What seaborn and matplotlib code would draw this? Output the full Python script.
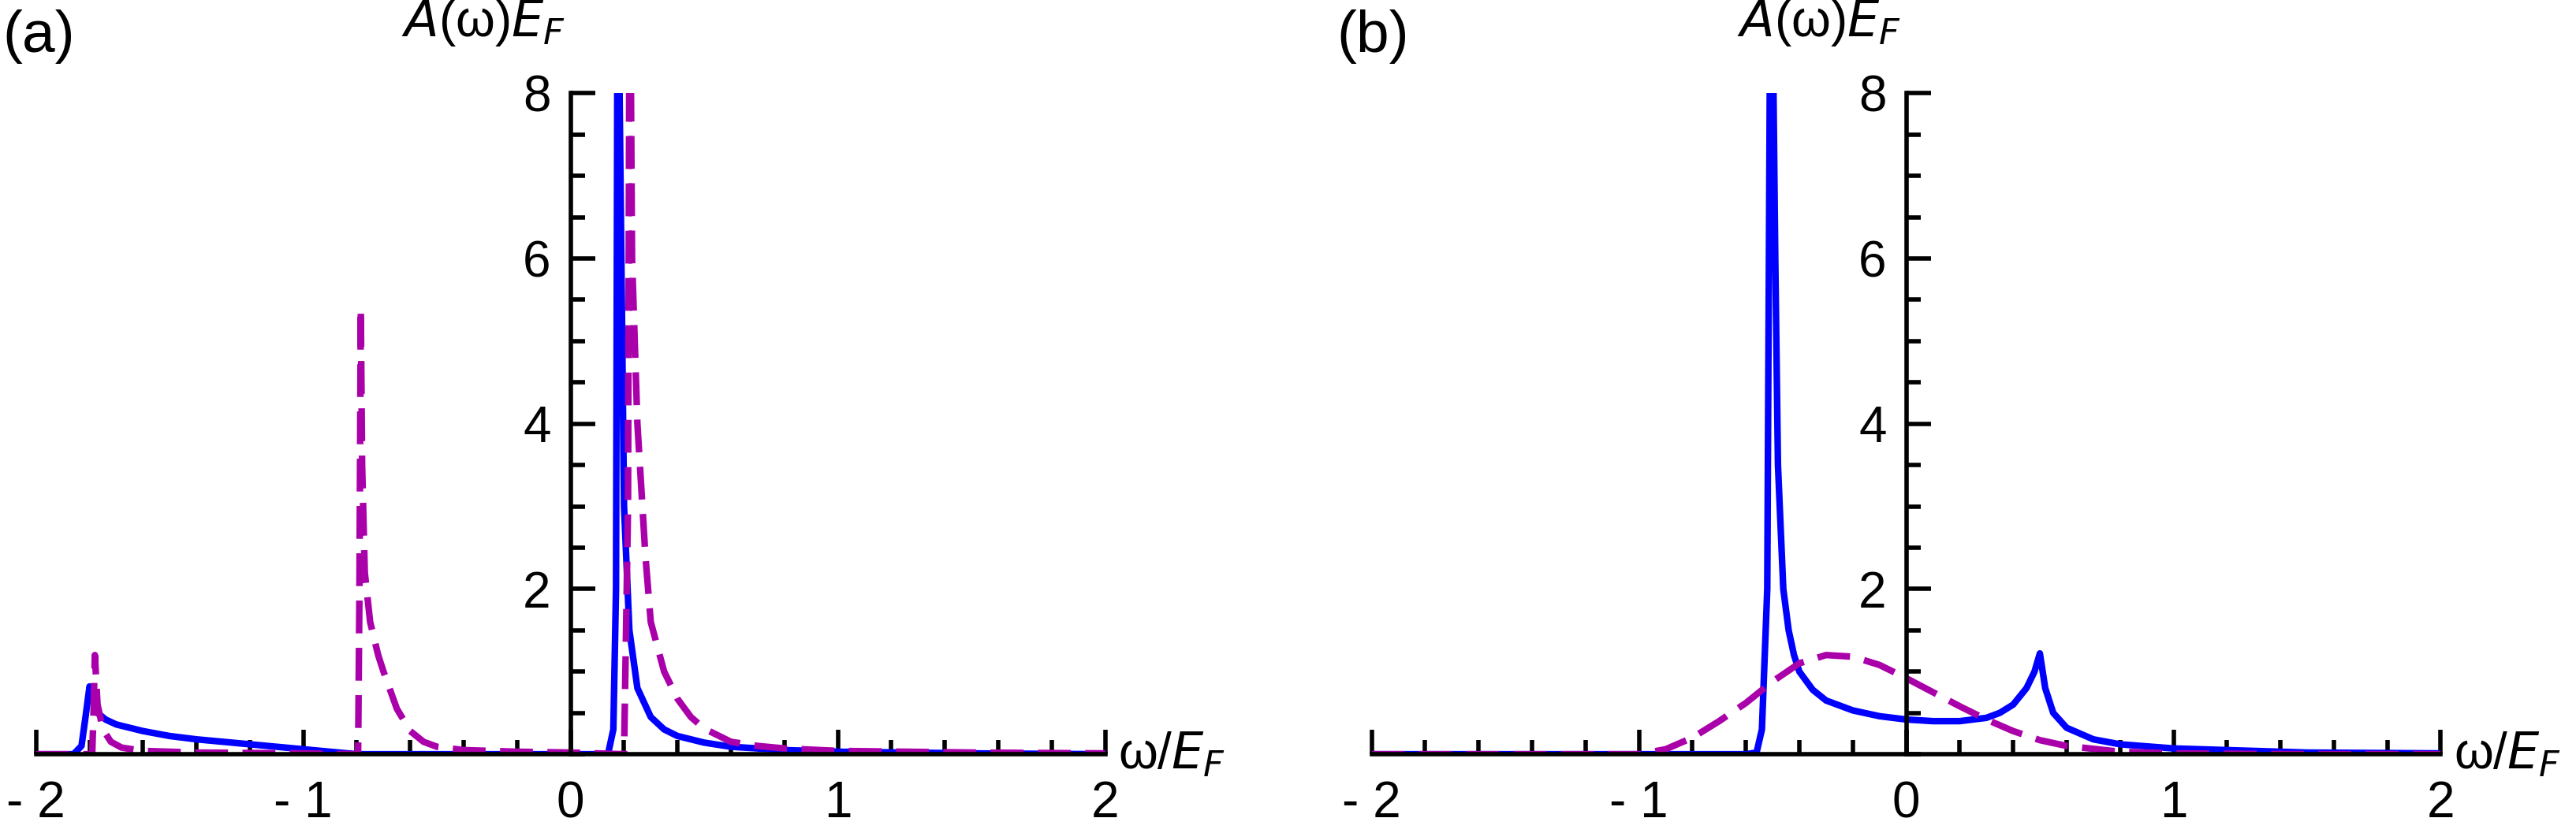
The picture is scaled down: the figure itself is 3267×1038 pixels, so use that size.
import numpy as np
import pandas as pd
import matplotlib
matplotlib.use("Agg")
import matplotlib.pyplot as plt
import seaborn as sns
from matplotlib.ticker import MultipleLocator

sns.set_style("white")
plt.rcParams['font.family'] = ['Liberation Sans', 'DejaVu Sans']
plt.rcParams['text.color'] = 'black'
plt.rcParams['xtick.color'] = 'black'
plt.rcParams['ytick.color'] = 'black'

# Panel (a)
a_blue_x = [-2.0, -1.86, -1.83, -1.815, -1.80, -1.79, -1.77, -1.74, -1.70, -1.6, -1.5, -1.4, -1.3, -1.2, -1.1, -1.0, -0.9, -0.8, -0.5, 0.0, 0.14, 0.16, 0.17, 0.175, 0.18, 0.19, 0.2, 0.22, 0.25, 0.3, 0.35, 0.4, 0.5, 0.6, 0.8, 1.0, 1.5, 2.0]
a_blue_y = [0.0, 0.0, 0.1, 0.45, 0.82, 0.7, 0.5, 0.42, 0.36, 0.28, 0.22, 0.18, 0.15, 0.12, 0.09, 0.06, 0.03, 0.0, 0.0, 0.0, 0.0, 0.3, 2.0, 8.5, 9.0, 6.0, 3.0, 1.5, 0.8, 0.45, 0.3, 0.22, 0.14, 0.09, 0.05, 0.03, 0.01, 0.0]
a_mag_x = [-2.0, -1.79, -1.785, -1.78, -1.77, -1.75, -1.72, -1.68, -1.6, -1.4, -1.0, -0.81, -0.795, -0.79, -0.785, -0.78, -0.77, -0.75, -0.72, -0.7, -0.65, -0.6, -0.55, -0.5, -0.4, -0.2, 0.0, 0.2, 0.215, 0.22, 0.225, 0.23, 0.25, 0.28, 0.3, 0.35, 0.4, 0.45, 0.5, 0.6, 0.7, 0.8, 1.0, 1.5, 2.0]
a_mag_y = [0.0, 0.0, 0.5, 1.2, 0.6, 0.3, 0.15, 0.08, 0.04, 0.02, 0.01, 0.0, 0.0, 2.0, 5.4, 3.5, 2.2, 1.6, 1.2, 1.0, 0.55, 0.28, 0.15, 0.09, 0.05, 0.03, 0.02, 0.0, 3.0, 9.0, 8.5, 6.0, 4.0, 2.4, 1.6, 1.0, 0.67, 0.45, 0.31, 0.15, 0.1, 0.07, 0.04, 0.02, 0.01]

# Panel (b)
b_blue_x = [-2.0, -1.0, -0.6, -0.56, -0.54, -0.52, -0.51, -0.5, -0.49, -0.48, -0.46, -0.44, -0.42, -0.4, -0.35, -0.3, -0.2, -0.1, 0.0, 0.1, 0.2, 0.3, 0.35, 0.4, 0.45, 0.48, 0.5, 0.52, 0.55, 0.6, 0.7, 0.8, 1.0, 1.5, 2.0]
b_blue_y = [0.0, 0.0, 0.0, 0.02, 0.3, 2.0, 8.5, 9.0, 6.0, 3.5, 2.0, 1.5, 1.2, 1.0, 0.78, 0.65, 0.53, 0.46, 0.42, 0.4, 0.4, 0.44, 0.5, 0.6, 0.8, 1.0, 1.22, 0.8, 0.5, 0.32, 0.18, 0.12, 0.07, 0.02, 0.01]
b_mag_x = [-2.0, -1.0, -0.9, -0.8, -0.7, -0.6, -0.5, -0.4, -0.3, -0.2, -0.1, 0.0, 0.1, 0.2, 0.3, 0.4, 0.5, 0.6, 0.8, 1.0, 1.5, 2.0]
b_mag_y = [0.0, 0.0, 0.06, 0.2, 0.4, 0.62, 0.88, 1.1, 1.2, 1.18, 1.08, 0.92, 0.75, 0.58, 0.42, 0.28, 0.17, 0.1, 0.03, 0.01, 0.0, 0.0]

x_ticks = [-2, -1, 0, 1, 2]
x_tick_labels = ["- 2", "- 1", "0", "1", "2"]
y_ticks = [2, 4, 6, 8]

BLUE = "#0000FF"
MAG = "#AA00AA"

fig = plt.figure(figsize=(32.67, 10.38), dpi=100)
axA = fig.add_axes([0.014, 0.078, 0.415, 0.808])
axB = fig.add_axes([0.5325, 0.078, 0.415, 0.808])

panels = [(axA, a_blue_x, a_blue_y, a_mag_x, a_mag_y),
          (axB, b_blue_x, b_blue_y, b_mag_x, b_mag_y)]
for ax, bx, by, mx, my in panels:
    sns.lineplot(x=bx, y=by, ax=ax, color=BLUE, lw=6, sort=False, estimator=None)
    sns.lineplot(x=mx, y=my, ax=ax, color=MAG, lw=6, sort=False, estimator=None,
                 linestyle=(0, (5, 2.2)))
    ax.set_xlim(-2, 2)
    ax.set_ylim(0, 8)
    for s in ["top", "right"]:
        ax.spines[s].set_visible(False)
    ax.spines["left"].set_position(("data", 0))
    ax.spines["bottom"].set_position(("data", 0))
    for s in ["left", "bottom"]:
        ax.spines[s].set_linewidth(4)
        ax.spines[s].set_color("black")
    ax.set_xticks(x_ticks)
    ax.set_xticklabels(x_tick_labels)
    ax.xaxis.set_minor_locator(MultipleLocator(0.2))
    ax.set_yticks(y_ticks)
    ax.yaxis.set_minor_locator(MultipleLocator(0.5))
    ax.tick_params(axis="x", which="both", bottom=True)
    ax.tick_params(axis="y", which="both", left=True)
    ax.tick_params(axis="x", which="major", direction="in", length=22, width=4, labelsize=46, pad=24, colors="black")
    ax.tick_params(axis="x", which="minor", direction="in", length=13, width=4)
    ax.tick_params(axis="y", which="major", direction="in", length=22, width=4, labelsize=46, pad=18, colors="black")
    ax.tick_params(axis="y", which="minor", direction="in", length=13, width=4)
    ax.set_xlabel("")
    ax.set_ylabel("")
    ax.text(-0.02, 8.55, r"$A$(ω)$E_F$", fontsize=46, ha="right", va="bottom", clip_on=False)
    ax.text(2.05, 0.0, r"ω/$E_F$", fontsize=46, ha="left", va="center", clip_on=False)

fig.text(0.001, 0.955, "(a)", fontsize=54, ha="left", va="center")
fig.text(0.519, 0.955, "(b)", fontsize=54, ha="left", va="center")

fig.savefig("out.png", dpi=100)
